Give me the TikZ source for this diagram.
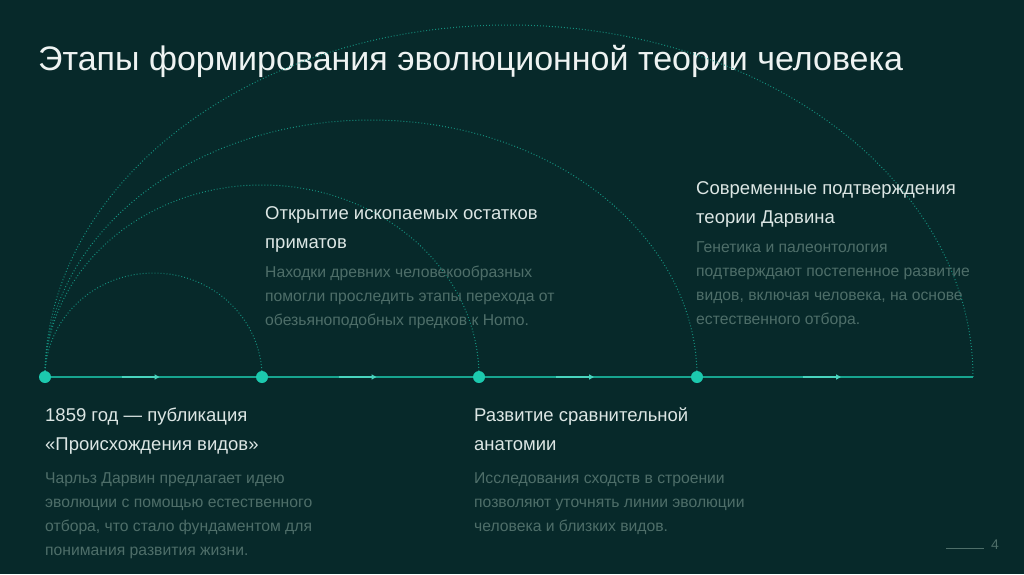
\documentclass[tikz,border=0pt]{standalone}
\usepackage{fontspec}
\setmainfont{Liberation Sans}
\usetikzlibrary{arrows.meta,positioning,calc}
\definecolor{evoBg}{HTML}{07292A}
\definecolor{evoTeal}{HTML}{1CC9AE}
\definecolor{evoLine}{HTML}{17A48F}
\definecolor{evoTitle}{HTML}{EEF3F2}
\definecolor{evoHead}{HTML}{DCE6E4}
\definecolor{evoMute}{HTML}{4E6E69}
\tikzset{
  evodot/.style={circle, fill=evoTeal, inner sep=0pt, minimum size=12pt},
  evoline/.style={line width=1.6pt, evoLine},
  evomark/.style={line width=1.8pt, evoTeal!80!white, -{Triangle[length=5pt, width=5pt]}},
  evoarc/.style={line width=1pt, evoTeal!65!evoBg, dash pattern=on 0.9pt off 2.1pt},
  evotitle/.style={font=\fontsize{34}{40}\selectfont, text=evoTitle, anchor=base west, inner sep=0pt},
  evohead/.style={font=\fontsize{18.5}{29}\selectfont, text=evoHead, anchor=base west, align=left, inner sep=0pt},
  evodesc/.style={font=\fontsize{15.7}{24}\selectfont, text=evoMute, anchor=base west, align=left, inner sep=0pt}
}
\begin{document}
\begin{tikzpicture}[x=1pt, y=-1pt]
  \fill[evoBg] (0,0) rectangle (1024,574);
  \useasboundingbox (0,0) rectangle (1024,574);

  \node[evotitle] (title) at (38,70) {Этапы формирования эволюционной теории человека};

  % timeline
  \foreach \i/\x in {0/45, 1/262, 2/479, 3/697}{
    \coordinate (p\i) at (\x,377);
  }
  \coordinate (pEnd) at (973,377);

  % dotted arcs from the first stage
  \draw[evoarc] (p0) arc[start angle=180, end angle=360, x radius=108.5, y radius=104];
  \draw[evoarc] (p0) arc[start angle=180, end angle=360, x radius=217, y radius=192];
  \draw[evoarc] (p0) arc[start angle=180, end angle=360, x radius=326, y radius=257];
  \draw[evoarc] (p0) arc[start angle=180, end angle=360, x radius=464, y radius=352];

  \draw[evoline] (p0) -- (pEnd);
  \foreach \a/\b [count=\k] in {p0/p1, p1/p2, p2/p3, p3/pEnd}{
    \path (\a) -- (\b) coordinate[pos=0.5] (m\k);
    \draw[evomark] ([xshift=-32pt]m\k) -- ([xshift=6pt]m\k);
  }
  \foreach \i in {0,...,3}{
    \node[evodot] (d\i) at (p\i) {};
  }

  % stage texts (base = last line)
  \node[evohead] (h1) at (45,450) {1859 год — публикация\\«Происхождения видов»};
  \node[evodesc] (t1) at (45,555) {Чарльз Дарвин предлагает идею\\эволюции с помощью естественного\\отбора, что стало фундаментом для\\понимания развития жизни.};

  \node[evohead] (h2) at (265,248) {Открытие ископаемых остатков\\приматов};
  \node[evodesc] (t2) at (265,325) {Находки древних человекообразных\\помогли проследить этапы перехода от\\обезьяноподобных предков к Homo.};

  \node[evohead] (h3) at (474,450) {Развитие сравнительной\\анатомии};
  \node[evodesc] (t3) at (474,531) {Исследования сходств в строении\\позволяют уточнять линии эволюции\\человека и близких видов.};

  \node[evohead] (h4) at (696,223) {Современные подтверждения\\теории Дарвина};
  \node[evodesc] (t4) at (696,324) {Генетика и палеонтология\\подтверждают постепенное развитие\\видов, включая человека, на основе\\естественного отбора.};

  % page number
  \node[font=\fontsize{14}{16}\selectfont, text=evoMute, anchor=base west, inner sep=0pt] (pg) at (991,549) {4};
  \coordinate (pgL) at (946,548);
  \draw[evoMute, line width=0.8pt] (pgL) -- ([xshift=-7pt]pg.base west |- pgL);
\end{tikzpicture}
\end{document}
